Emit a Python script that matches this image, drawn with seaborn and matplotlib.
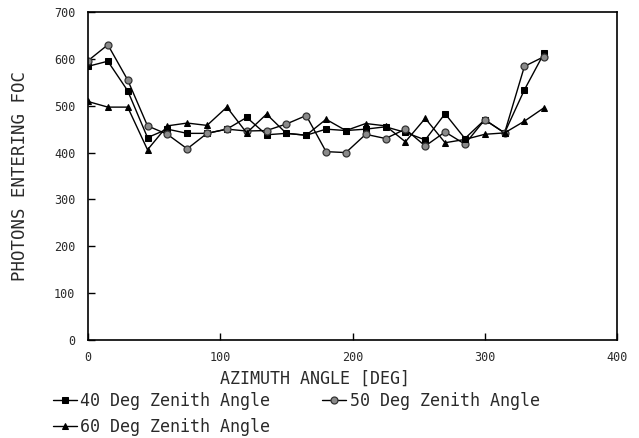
import numpy as np
import pandas as pd
import matplotlib
matplotlib.use("Agg")
import matplotlib.pyplot as plt
import seaborn as sns

azimuth = [0, 15, 30, 45, 60, 75, 90, 105, 120, 135, 150, 165,
           180, 195, 210, 225, 240, 255, 270, 285, 300, 315, 330, 345]
zen40 = [584, 595, 532, 432, 450, 441, 441, 450, 475, 438, 441, 437,
         450, 447, 450, 455, 443, 427, 483, 430, 470, 442, 534, 613]
zen50 = [596, 630, 555, 457, 439, 408, 441, 450, 446, 447, 461, 479,
         402, 400, 439, 430, 450, 414, 444, 418, 470, 442, 584, 605]
zen60 = [509, 497, 497, 406, 457, 463, 458, 497, 442, 482, 441, 437,
         471, 447, 462, 457, 423, 473, 421, 428, 439, 442, 467, 496]
labels = ["40 Deg Zenith Angle", "50 Deg Zenith Angle", "60 Deg Zenith Angle"]

sns.set_theme(style="white")
plt.rcParams['font.family'] = ['DejaVu Sans Mono', 'DejaVu Sans']

fig = plt.figure(figsize=(6.39, 4.38), dpi=100)
ax = fig.add_axes([88/639, 1-340/438, (617-88)/639, (340-12)/438])

txt = "#2a2a2a"
sns.lineplot(x=azimuth, y=zen40, ax=ax, color="black", lw=1.0, marker="s",
             markersize=4.5, markerfacecolor="black", markeredgecolor="black",
             label=labels[0])
sns.lineplot(x=azimuth, y=zen50, ax=ax, color="black", lw=1.0, marker="o",
             markersize=5, markerfacecolor="#8a8a8a", markeredgecolor="#333333",
             markeredgewidth=0.9, label=labels[1])
sns.lineplot(x=azimuth, y=zen60, ax=ax, color="black", lw=1.0, marker="^",
             markersize=5, markerfacecolor="black", markeredgecolor="black",
             label=labels[2])

ax.set_xlim(0, 400)
ax.set_ylim(0, 700)
ax.set_xticks([0, 100, 200, 300, 400])
ax.set_yticks([0, 100, 200, 300, 400, 500, 600, 700])
ax.tick_params(direction="in", length=5, width=1, colors="black",
               labelcolor=txt, labelsize=8.5)
ax.tick_params(axis="x", top=False, bottom=True, pad=8)
ax.tick_params(axis="y", left=True, right=False, pad=9)
for s in ax.spines.values():
    s.set_color("black")
    s.set_linewidth(1.2)
ax.set_xlabel("AZIMUTH ANGLE [DEG]", fontsize=12, color=txt)
ax.xaxis.set_label_coords((315 - 88) / 529, (340 - 370) / 328)
ax.set_ylabel("PHOTONS ENTERING FOC", fontsize=12.5, color=txt)
ax.yaxis.set_label_coords((29 - 88) / 529, 0.5)
ax.grid(False)

ax.get_legend().remove()
h, l = ax.get_legend_handles_labels()
order = [0, 2, 1]
fig.legend([h[i] for i in order], [l[i] for i in order], ncol=2,
           frameon=False, loc="upper left",
           bbox_to_anchor=(53 / 639, 1 - 392 / 438), fontsize=12,
           handlelength=1.45, handletextpad=0.2, columnspacing=3.1,
           labelspacing=0.45, borderpad=0, borderaxespad=0,
           labelcolor=txt)

fig.savefig("out.png", dpi=100)
